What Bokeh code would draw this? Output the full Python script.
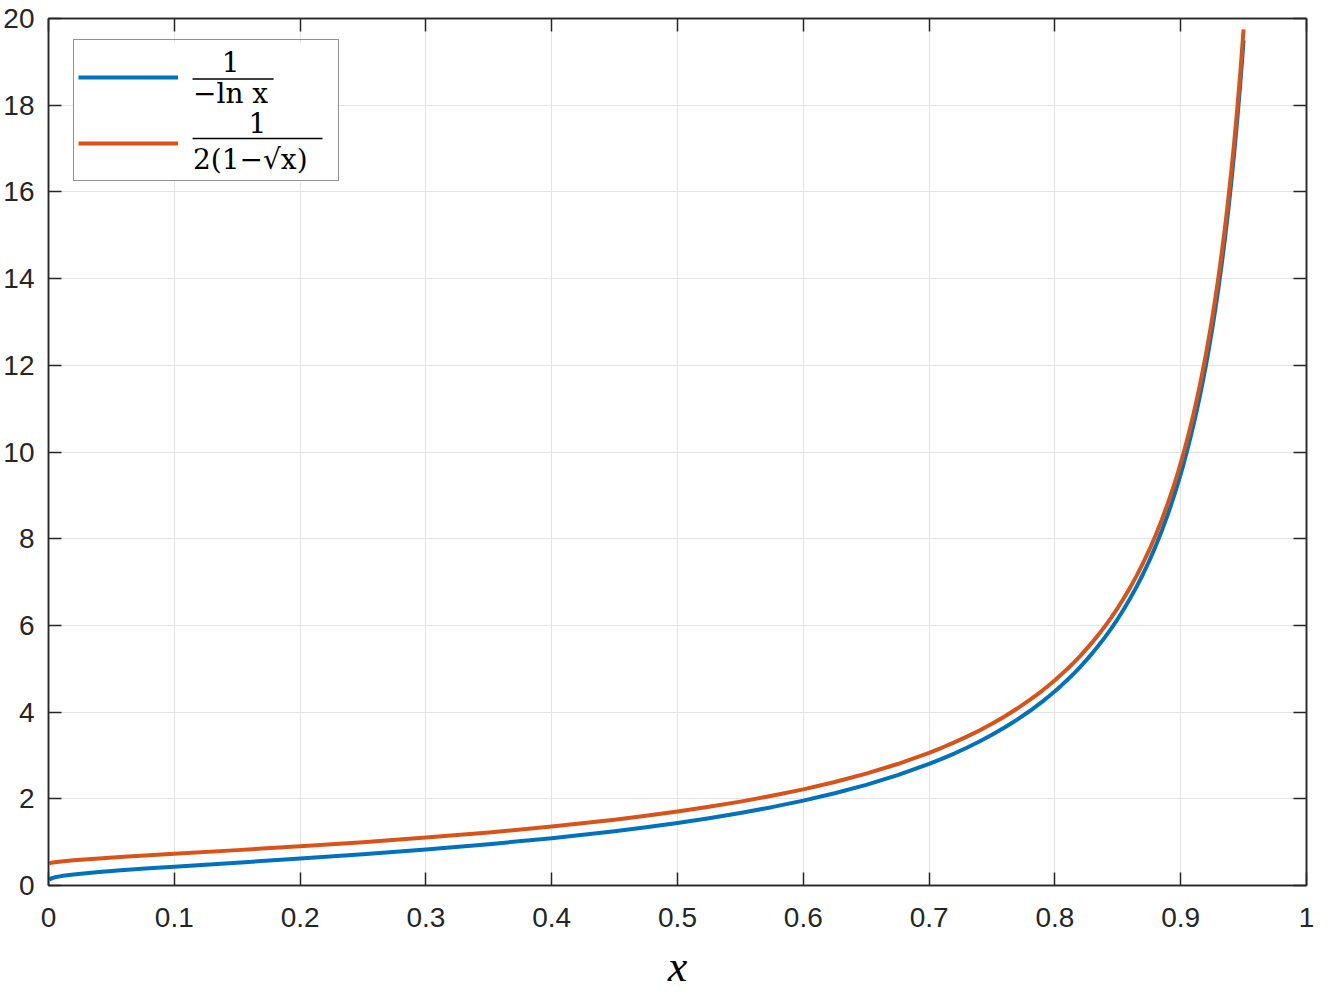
from bokeh.plotting import figure
from bokeh.models import (Range1d, LinearAxis, FixedTicker, NumeralTickFormatter,
                          Legend, LegendItem, Label, BoxAnnotation)
from bokeh.embed import file_html
from bokeh.resources import INLINE

# ---- data ----
x_vals = [0.0005, 0.002, 0.005, 0.01, 0.02, 0.04, 0.06, 0.08, 0.1, 0.15, 0.2, 0.25,
          0.3, 0.35, 0.4, 0.45, 0.475, 0.5, 0.525, 0.55, 0.575, 0.6, 0.625, 0.65,
          0.675, 0.7, 0.71, 0.72, 0.73, 0.74, 0.75, 0.76, 0.77, 0.78, 0.785, 0.79,
          0.795, 0.8, 0.805, 0.81, 0.815, 0.82, 0.825, 0.83, 0.835, 0.84, 0.845,
          0.85, 0.855, 0.86, 0.865, 0.87, 0.875, 0.88, 0.885, 0.89, 0.8925, 0.895,
          0.8975, 0.9, 0.9025, 0.905, 0.9075, 0.91, 0.9125, 0.915, 0.9175, 0.92,
          0.9225, 0.925, 0.9275, 0.93, 0.9325, 0.935, 0.9375, 0.94, 0.9425, 0.945,
          0.9475, 0.95]
y_neg_ln = [0.132, 0.161, 0.189, 0.217, 0.256, 0.311, 0.356, 0.396, 0.434, 0.527,
            0.621, 0.721, 0.831, 0.953, 1.091, 1.252, 1.343, 1.443, 1.552, 1.673,
            1.807, 1.958, 2.128, 2.321, 2.545, 2.804, 2.920, 3.044, 3.178, 3.321,
            3.476, 3.644, 3.826, 4.025, 4.131, 4.242, 4.359, 4.481, 4.610, 4.746,
            4.888, 5.039, 5.198, 5.367, 5.546, 5.735, 5.938, 6.153, 6.384, 6.631,
            6.895, 7.180, 7.489, 7.823, 8.185, 8.582, 8.792, 9.015, 9.247, 9.491,
            9.748, 10.018, 10.303, 10.603, 10.920, 11.257, 11.614, 11.993, 12.396,
            12.827, 13.287, 13.780, 14.308, 14.879, 15.494, 16.161, 16.887, 17.677,
            18.543, 19.496]
y_sqrt = [0.511, 0.523, 0.538, 0.556, 0.582, 0.625, 0.662, 0.697, 0.731, 0.816,
          0.905, 1.000, 1.106, 1.224, 1.360, 1.519, 1.609, 1.707, 1.815, 1.935,
          2.069, 2.218, 2.387, 2.580, 2.802, 3.061, 3.177, 3.301, 3.434, 3.577,
          3.732, 3.900, 4.082, 4.280, 4.386, 4.497, 4.614, 4.736, 4.865, 5.000,
          5.143, 5.293, 5.453, 5.621, 5.799, 5.989, 6.191, 6.406, 6.637, 6.883,
          7.148, 7.434, 7.741, 8.075, 8.437, 8.834, 9.045, 9.266, 9.498, 9.743,
          10.000, 10.269, 10.555, 10.855, 11.173, 11.509, 11.865, 12.245, 12.649,
          13.080, 13.539, 14.033, 14.560, 15.129, 15.748, 16.415, 17.135, 17.928,
          18.797, 19.747]

x_ticks = [0, 0.1, 0.2, 0.3, 0.4, 0.5, 0.6, 0.7, 0.8, 0.9, 1]
y_ticks = [0, 2, 4, 6, 8, 10, 12, 14, 16, 18, 20]

numerators = ["1", "1"]
denominators = ["\u2212ln x", "2(1\u2212\u221ax)"]

# ---- styling ----
AX = "#262626"
GRID = "#e3e3e3"
BLUE = "#0072BD"
ORANGE = "#D95319"
TICK_FONT = "Liberation Sans"
MATH_FONT = "DejaVu Serif"

p = figure(width=1325, height=995, output_backend="svg", toolbar_location=None,
           x_range=Range1d(0, 1), y_range=Range1d(0, 20),
           min_border_left=48, min_border_right=19, min_border_top=18,
           min_border_bottom=110, x_axis_label="x")
p.background_fill_color = "white"
p.border_fill_color = "white"
p.outline_line_color = AX
p.outline_line_width = 1.5

for ax, ticks in ((p.xaxis[0], x_ticks), (p.yaxis[0], y_ticks)):
    ax.ticker = FixedTicker(ticks=ticks, minor_ticks=[])
    ax.major_tick_in = 13
    ax.major_tick_out = 0
    ax.minor_tick_in = 0
    ax.minor_tick_out = 0
    ax.axis_line_color = AX
    ax.axis_line_width = 1.5
    ax.major_tick_line_color = AX
    ax.major_tick_line_width = 1.5
    ax.major_label_text_font = TICK_FONT
    ax.major_label_text_font_size = "28px"
    ax.major_label_text_color = AX
p.xaxis[0].formatter = NumeralTickFormatter(format="0.[0]")
p.xaxis[0].major_label_standoff = 22
p.yaxis[0].major_label_standoff = 14
p.xaxis[0].axis_label_text_font = "Liberation Serif"
p.xaxis[0].axis_label_text_font_style = "italic"
p.xaxis[0].axis_label_text_font_size = "44px"
p.xaxis[0].axis_label_text_color = "black"
p.xaxis[0].axis_label_standoff = 12

for loc, ticks in (("above", x_ticks), ("right", y_ticks)):
    ax = LinearAxis(ticker=FixedTicker(ticks=ticks, minor_ticks=[]),
                    major_tick_in=13, major_tick_out=0,
                    minor_tick_in=0, minor_tick_out=0,
                    axis_line_color=AX, axis_line_width=1.5,
                    major_tick_line_color=AX, major_tick_line_width=1.5,
                    major_label_text_color=None, major_label_text_font_size="1px",
                    major_label_standoff=0)
    p.add_layout(ax, loc)

p.xgrid.ticker = FixedTicker(ticks=x_ticks)
p.ygrid.ticker = FixedTicker(ticks=y_ticks)
p.grid.grid_line_color = GRID
p.grid.grid_line_width = 1

r1 = p.line(x_vals, y_neg_ln, line_color=BLUE, line_width=4, line_join="round")
r2 = p.line(x_vals, y_sqrt, line_color=ORANGE, line_width=4, line_join="round")

# white backing of the legend box (annotation, data units)
LEG_BOX = dict(left=0.0199, right=0.2297, top=19.45, bottom=16.22)
p.add_layout(BoxAnnotation(**LEG_BOX, fill_color="white", fill_alpha=1,
                           line_color=None, level="annotation"))

# fraction parts of the legend labels (annotation positions in data units)
num_pos = [(0.1447, 19.01), (0.1661, 17.60)]
bar_pos = [(0.1145, 0.1789, 18.604), (0.1145, 0.2178, 17.232)]
for txt, (nx, ny) in zip(numerators, num_pos):
    p.add_layout(Label(x=nx, y=ny, text=txt, text_font=MATH_FONT,
                       text_font_size="28px", text_color="black",
                       text_align="center", text_baseline="middle"))
bx0 = [b[0] for b in bar_pos]
bx1 = [b[1] for b in bar_pos]
by = [b[2] for b in bar_pos]
p.segment(bx0, by, bx1, by, line_color="black", line_width=1.5, level="overlay")

legend = Legend(items=[LegendItem(label="\n" + denominators[0], renderers=[r1]),
                       LegendItem(label="\n" + denominators[1], renderers=[r2])],
                location=(25, 704), orientation="vertical",
                padding=4, spacing=-2, glyph_height=60, label_height=60,
                glyph_width=100, label_standoff=15, label_width=141, margin=0,
                label_text_font=MATH_FONT, label_text_font_size="28px",
                label_text_color="black",
                border_line_color=AX, border_line_width=1.3,
                background_fill_color="white", background_fill_alpha=0)
p.add_layout(legend)

open("out.html", "w").write(file_html(p, INLINE))
